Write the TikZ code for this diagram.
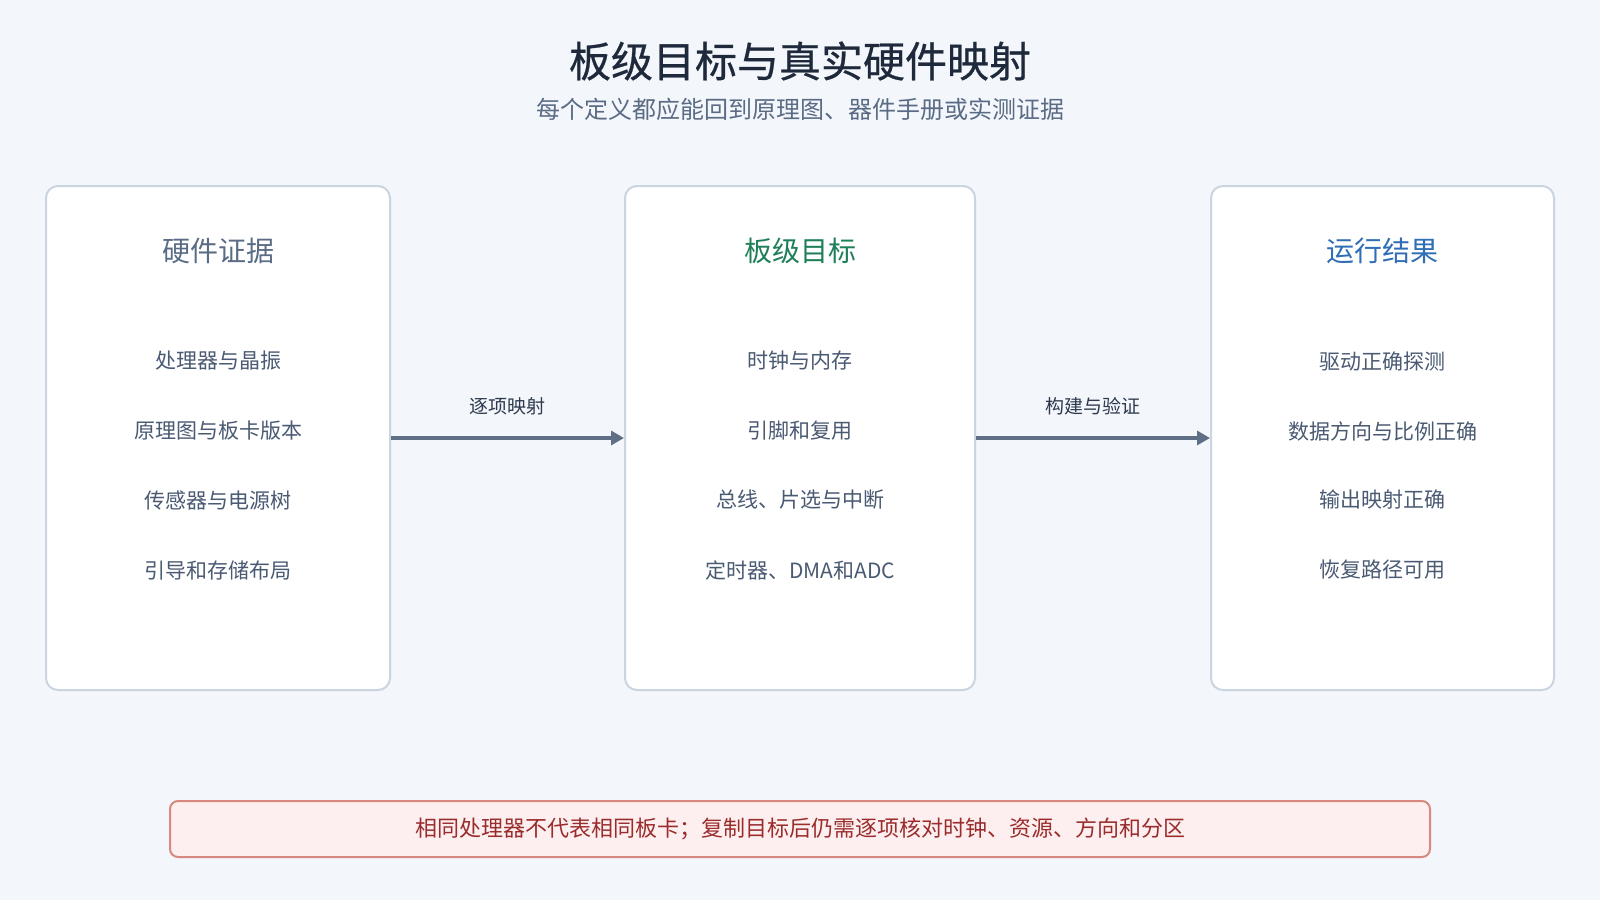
\documentclass[tikz,border=0pt]{standalone}
\usepackage{fontspec}
\setmainfont{Noto Sans CJK SC}
\newfontfamily\titlefont[FakeBold=0.6]{Noto Sans CJK SC}
\usetikzlibrary{arrows.meta,positioning}
\definecolor{bgc}{HTML}{F3F6FA}
\definecolor{cardline}{HTML}{CBD5E1}
\definecolor{titlec}{HTML}{1E293B}
\definecolor{subc}{HTML}{5A6B85}
\definecolor{itemc}{HTML}{4A5A73}
\definecolor{greenc}{HTML}{1F7F57}
\definecolor{bluec}{HTML}{2F6DB5}
\definecolor{arrowc}{HTML}{5F6F86}
\definecolor{labelc}{HTML}{2D3A4E}
\definecolor{warnfill}{HTML}{FDEFEF}
\definecolor{warnline}{HTML}{D98880}
\definecolor{warntext}{HTML}{9B2C2C}
\newcommand\fsz[1]{\fontsize{#1}{#1}\selectfont}
\tikzset{
  card/.style={draw=cardline, line width=2pt, fill=white, rounded corners=12pt},
  head/.style={font=\fsz{28}},
  item/.style={font=\fsz{21}, text=itemc},
  link/.style={draw=arrowc, line width=4pt, -{Triangle[length=13pt,width=14pt]}},
  linklabel/.style={font=\fsz{19}, text=labelc},
}

\begin{document}
\begin{tikzpicture}[x=1pt, y=-1pt]
	\useasboundingbox[fill=bgc] (0,0) rectangle (1600,900);
	\node[font=\titlefont\fsz{42}, text=titlec] (title) at (800,61) {板级目标与真实硬件映射};
	\node[font=\fsz{24}, text=subc] (sub) at (800,109) {每个定义都应能回到原理图、器件手册或实测证据};

	\node[card, minimum width=344pt, minimum height=504pt] (hw) at (218,438) {};
	\node[card, minimum width=350pt, minimum height=504pt] (tg) at (800,438) {};
	\node[card, minimum width=343pt, minimum height=504pt] (rs) at (1382.5,438) {};

	\node[head, text=subc] (hwh) at (218,251) {硬件证据};
	\node[item] (hw1) at (218,361) {处理器与晶振};
	\node[item] (hw2) at (218,431) {原理图与板卡版本};
	\node[item] (hw3) at (218,500) {传感器与电源树};
	\node[item] (hw4) at (218,570) {引导和存储布局};

	\node[head, text=greenc] (tgh) at (800,251) {板级目标};
	\node[item] (tg1) at (800,361) {时钟与内存};
	\node[item] (tg2) at (800,431) {引脚和复用};
	\node[item] (tg3) at (800,500) {总线、片选与中断};
	\node[item] (tg4) at (800,570) {定时器、DMA和ADC};

	\node[head, text=bluec] (rsh) at (1382.5,251) {运行结果};
	\node[item] (rs1) at (1382.5,361) {驱动正确探测};
	\node[item] (rs2) at (1382.5,431) {数据方向与比例正确};
	\node[item] (rs3) at (1382.5,500) {输出映射正确};
	\node[item] (rs4) at (1382.5,570) {恢复路径可用};

	\draw[link] (hw.east) -- (tg.west) node[midway, above=18pt, linklabel] (l1) {逐项映射};
	\draw[link] (tg.east) -- (rs.west) node[midway, above=18pt, linklabel] (l2) {构建与验证};

	\node[draw=warnline, line width=2pt, fill=warnfill, rounded corners=8pt,
		minimum width=1260pt, minimum height=56pt, font=\fsz{22}, text=warntext]
		(warn) at (800,829) {相同处理器不代表相同板卡；复制目标后仍需逐项核对时钟、资源、方向和分区};
\end{tikzpicture}
\end{document}
